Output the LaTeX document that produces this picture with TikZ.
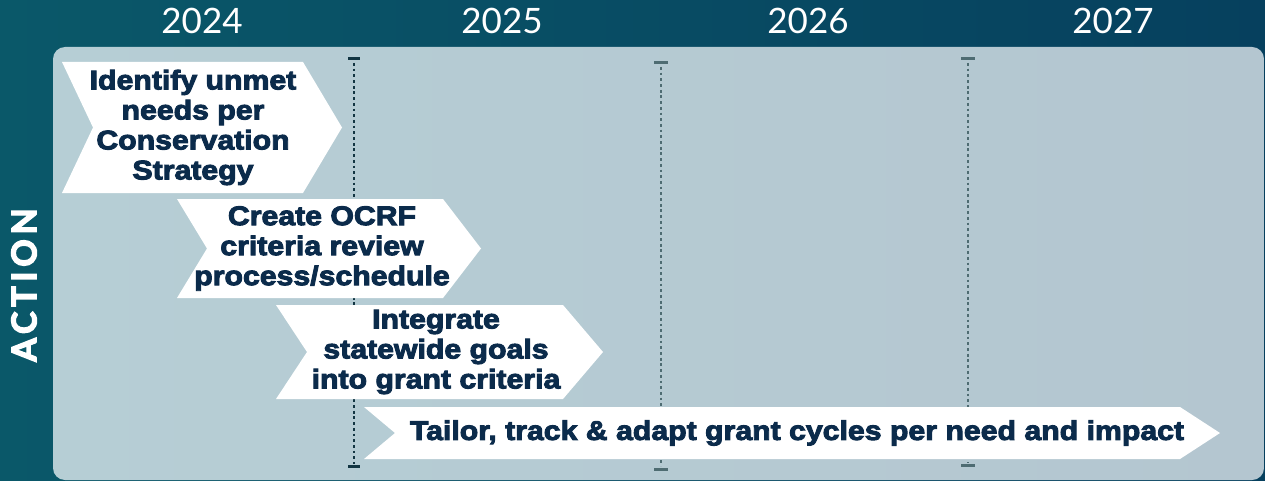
\documentclass[tikz,border=0pt]{standalone}
\usepackage{fontspec}
\setmainfont{Liberation Sans}
\newfontfamily\yearfont{Lato}
\newfontfamily\actfont{Lato}[LetterSpace=14,BoldFeatures={FakeBold=4}]
\newfontfamily\chevfont{Liberation Sans}[BoldFeatures={FakeBold=3.5,FakeStretch=1.12}]
\definecolor{bgL}{HTML}{0A5869}
\definecolor{bgR}{HTML}{06405E}
\definecolor{panL}{HTML}{B6CED5}
\definecolor{panR}{HTML}{B4C6D0}
\definecolor{navy}{HTML}{0B2B4B}
\definecolor{dotA}{HTML}{123542}
\definecolor{dotB}{HTML}{4E6C72}
\tikzset{
  yearlbl/.style={text=white,font=\yearfont\fontsize{35}{40}\selectfont,inner sep=0pt},
  chevtxt/.style={text=navy,font=\chevfont\bfseries\fontsize{27}{30}\selectfont,align=center,inner sep=0pt},
  chevshape/.style={fill=white},
  dotline/.style={line width=2.8pt,dash pattern=on 2.8pt off 2.9pt},
  tickmark/.style={line width=3pt},
}
\begin{document}
\begin{tikzpicture}[x=1pt,y=-1pt]
\useasboundingbox (0,0) rectangle (1265,481);
% background
\shade[left color=bgL,right color=bgR] (0,0) rectangle (1265,481);
% panel
\shade[left color=panL,right color=panR,rounded corners=12pt] (53,47) rectangle (1264,480);
% years
\node[yearlbl] (y24) at (202,21) {2024};
\node[yearlbl] (y25) at (502,21) {2025};
\node[yearlbl] (y26) at (808,21) {2026};
\node[yearlbl] (y27) at (1113,21) {2027};
% action
\node[text=white,font=\actfont\bfseries\fontsize{34}{40}\selectfont,rotate=90,inner sep=0pt] (act) at (24,285) {ACTION};
% dotted year dividers
\coordinate (d1t) at (354,63); \coordinate (d1b) at (354,464);
\coordinate (d2t) at (661,67); \coordinate (d2b) at (661,466);
\coordinate (d3t) at (968,63); \coordinate (d3b) at (968,463);
\draw[dotline,dotA] (d1t) -- (d1b);
\draw[dotline,dotB] (d2t) -- (d2b);
\draw[dotline,dotB] (d3t) -- (d3b);
\draw[tickmark,dotA] (348,58.5) -- (360,58.5);
\draw[tickmark,dotA] (348,466) -- (360,466);
\draw[tickmark,dotB] (654,63) -- (668,63);
\draw[tickmark,dotB] (654,469) -- (668,469);
\draw[tickmark,dotB] (961,59) -- (975,59);
\draw[tickmark,dotB] (961,465.5) -- (975,465.5);
% chevrons
\fill[chevshape] (62,62) -- (303,62) -- (342,127.5) -- (303,193) -- (62,193) -- (93,127.5) -- cycle;
\node[chevtxt] (c1) at (193,127.5) {Identify unmet\\needs per\\Conservation\\Strategy};
\fill[chevshape] (177,199) -- (443,199) -- (481,248.5) -- (443,298) -- (177,298) -- (207,248.5) -- cycle;
\node[chevtxt] (c2) at (322,248.5) {Create OCRF\\criteria review\\process/schedule};
\fill[chevshape] (276,305) -- (563,305) -- (603,352) -- (563,399) -- (276,399) -- (307,352) -- cycle;
\node[chevtxt] (c3) at (436,352) {Integrate\\statewide goals\\into grant criteria};
\fill[chevshape] (364,407) -- (1180,407) -- (1220,433) -- (1180,459) -- (364,459) -- (395,433) -- cycle;
\node[chevtxt] (c4) at (797,433) {Tailor, track \& adapt grant cycles per need and impact};
\end{tikzpicture}
\end{document}
